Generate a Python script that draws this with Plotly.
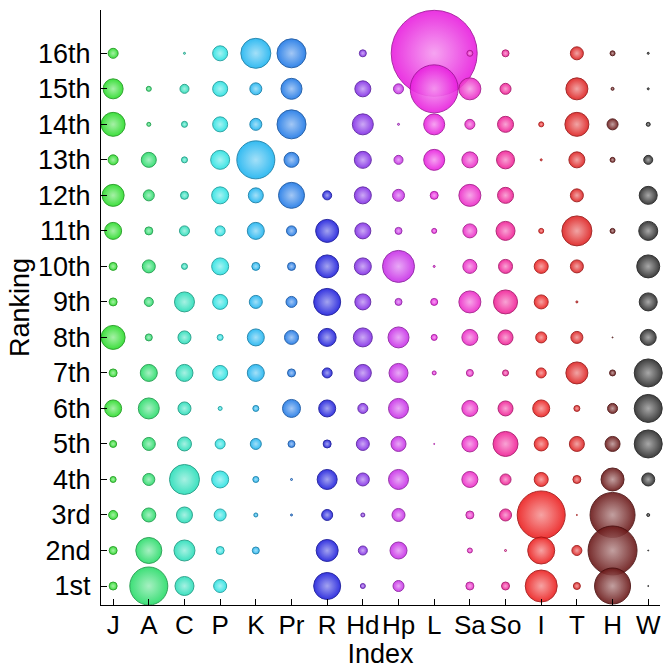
import plotly.graph_objects as go

# Column categories (Index) and row labels (Ranking)
indices = ["J", "A", "C", "P", "K", "Pr", "R", "Hd", "Hp", "L", "Sa", "So", "I", "T", "H", "W"]
rank_labels = ["1st", "2nd", "3rd", "4th", "5th", "6th", "7th", "8th",
               "9th", "10th", "11th", "12th", "13th", "14th", "15th", "16th"]

# Bubble diameters per index, ranks 1st..16th (0 = no bubble)
J  = [8, 8, 9, 6, 7, 17, 8, 24, 8, 8, 17, 22, 10, 24, 20, 10]
A  = [38, 26, 14, 12, 13, 21, 17, 7, 9, 13, 8, 11, 15, 4, 5, 0]
C  = [19, 21, 16, 30, 14, 13, 17, 13, 20, 6, 10, 8, 6, 6, 9, 2]
P  = [13, 8, 12, 17, 10, 4, 15, 6, 15, 17, 10, 17, 19, 15, 15, 15]
K  = [0, 7, 4, 6, 11, 6, 17, 17, 13, 8, 17, 15, 38, 12, 12, 30]
Pr = [0, 0, 2, 2, 7, 18, 8, 14, 11, 8, 10, 26, 15, 29, 21, 29]
R  = [27, 22, 11, 20, 8, 17, 10, 18, 27, 23, 23, 9, 0, 0, 0, 0]
Hd = [5, 9, 4, 13, 13, 10, 17, 19, 16, 17, 16, 17, 17, 21, 16, 7]
Hp = [11, 17, 13, 20, 15, 20, 19, 21, 7, 32, 7, 12, 9, 2, 10, 0]
L  = [0, 0, 0, 0, 1, 0, 4, 6, 7, 2, 5, 8, 21, 21, 48, 86]
Sa = [8, 5, 8, 16, 16, 16, 7, 16, 22, 14, 14, 22, 16, 10, 22, 6]
So = [8, 2, 12, 11, 25, 15, 6, 15, 24, 14, 19, 16, 18, 16, 11, 7]
I  = [32, 27, 48, 14, 14, 17, 10, 11, 14, 14, 5, 0, 2, 5, 0, 0]
T  = [7, 10, 1, 8, 15, 6, 22, 12, 2, 13, 30, 13, 16, 24, 22, 13]
H  = [36, 49, 45, 23, 15, 10, 6, 1, 0, 0, 5, 0, 5, 11, 3, 5]
W  = [1, 1, 3, 13, 28, 28, 28, 16, 18, 23, 19, 18, 9, 4, 2, 2]

series = [J, A, C, P, K, Pr, R, Hd, Hp, L, Sa, So, I, T, H, W]

colors = [
    (40, 220, 40), (40, 220, 105), (40, 222, 185), (40, 225, 225),
    (30, 180, 240), (30, 120, 230), (30, 30, 220), (130, 45, 230),
    (200, 45, 232), (232, 30, 222), (236, 40, 200), (240, 30, 150),
    (236, 30, 30), (222, 32, 32), (105, 22, 22), (42, 42, 42),
]


def rgb(c):
    return "rgb(%d,%d,%d)" % tuple(int(round(v)) for v in c)


def mix(c, t, f):
    return tuple(a + (b - a) * f for a, b in zip(c, t))


fig = go.Figure()
for ci, (name, vals, col) in enumerate(zip(indices, series, colors)):
    xs, ys, ss = [], [], []
    # draw from 16th down to 1st so lower ranks sit on top
    for ri in range(15, -1, -1):
        if vals[ri] > 0:
            xs.append(ci + 1)
            ys.append(ri + 1)
            ss.append(vals[ri])
    fig.add_trace(go.Scatter(
        x=xs, y=ys, mode="markers", name=name, showlegend=False,
        cliponaxis=False, hoverinfo="skip",
        marker=dict(
            size=ss, sizemode="diameter", sizeref=1,
            color=rgb(col), opacity=0.9,
            gradient=dict(type="radial", color=rgb(mix(col, (255, 255, 255), 0.55))),
            line=dict(width=1, color=rgb(mix(col, (0, 0, 0), 0.3))),
        ),
    ))

font = dict(family="Arial, Liberation Sans, sans-serif", size=27, color="black")
tfont = dict(family="Arial, Liberation Sans, sans-serif", size=26, color="black")

fig.update_layout(
    width=664, height=669,
    margin=dict(l=101, r=4, t=10, b=64),
    paper_bgcolor="white", plot_bgcolor="white",
    font=font,
    xaxis=dict(
        range=[0.66, 16.33], tickmode="array",
        tickvals=list(range(1, 17)), ticktext=indices,
        showgrid=False, zeroline=False, showline=True, linecolor="black",
        linewidth=1, ticks="inside", ticklen=6, tickcolor="black",
        title=dict(text="Index", standoff=3, font=font),
        tickfont=tfont, ticklabelstandoff=-3, tickangle=0, automargin=False,
    ),
    yaxis=dict(
        range=[0.465, 17.22], tickmode="array",
        tickvals=list(range(1, 17)), ticktext=rank_labels,
        showgrid=False, zeroline=False, showline=True, linecolor="black",
        linewidth=1, ticks="inside", ticklen=6, tickcolor="black",
        title=dict(text="Ranking", standoff=0, font=font),
        tickfont=font, ticklabelstandoff=4, automargin=False,
    ),
)

fig.write_html(
    "out.html",
    config={"displayModeBar": False},
    post_script="document.body.style.margin='0';document.body.style.overflow='hidden';",
)
